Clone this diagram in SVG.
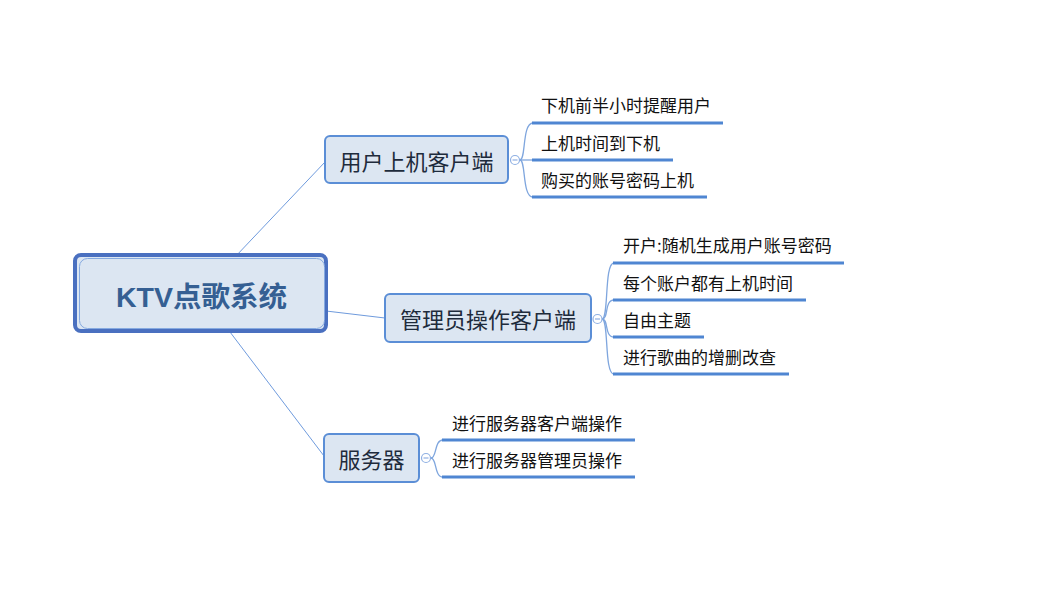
<svg xmlns="http://www.w3.org/2000/svg" width="1061" height="595" viewBox="0 0 1061 595">
<style>
.bg{fill:#ffffff}
.conn{stroke:#6F9BDD;stroke-width:1;fill:none}
.branch{stroke:#7FA6DE;stroke-width:1.3;fill:none}
.under{stroke:#4F86D2;stroke-width:3;fill:none}
.sub{fill:#DCE6F2;stroke:#5B8ED6;stroke-width:2}
.tog{fill:#ffffff;stroke:#8FB0E3;stroke-width:1.2}
.togm{stroke:#8FB0E3;stroke-width:1.2}
.t-main{font-family:"Liberation Sans","Noto Sans CJK SC",sans-serif;font-weight:bold;font-size:28.5px;fill:#355F93}
.t-sub{font-family:"Noto Sans CJK SC",sans-serif;font-size:22px;fill:#1E2B3C}
.t-leaf{font-family:"Noto Sans CJK SC",sans-serif;font-size:17px;fill:#111111}
</style>
<rect class="bg" x="0" y="0" width="1061" height="595"/>
<g id="connectors">
<line class="conn" x1="235" y1="257" x2="325" y2="162"/>
<line class="conn" x1="326" y1="311" x2="385" y2="318"/>
<line class="conn" x1="230" y1="332" x2="324" y2="456"/>
<path class="branch" d="M520,160 C526,160 522,123 533,123"/>
<path class="branch" d="M520,160 L533,160"/>
<path class="branch" d="M520,160 C526,160 522,197 533,197"/>
<path class="branch" d="M602,319 C609,319 604,263 614,263"/>
<path class="branch" d="M602,319 C609,319 604,300 614,300"/>
<path class="branch" d="M602,319 C609,319 604,337 614,337"/>
<path class="branch" d="M602,319 C609,319 604,374 614,374"/>
<path class="branch" d="M431,458 C437,458 434,440 443,440"/>
<path class="branch" d="M431,458 C437,458 434,477 443,477"/>
</g>
<g id="root">
<rect x="75" y="255" width="251" height="76" rx="6" fill="#DCE6F2" stroke="#4A70C0" stroke-width="4"/>
<rect x="79.5" y="258.5" width="245" height="70" rx="8" fill="none" stroke="#86AAE0" stroke-width="1"/>
<text class="t-main" x="201.5" y="307" text-anchor="middle">KTV点歌系统</text>
</g>
<g id="node-user">
<rect class="sub" x="325" y="136" width="183" height="47" rx="5"/>
<text class="t-sub" x="416.5" y="170" text-anchor="middle">用户上机客户端</text>
<circle class="tog" cx="515" cy="160" r="4.5"/>
<line class="togm" x1="512.5" y1="160" x2="517.5" y2="160"/>
</g>
<g id="leaf-u1"><text class="t-leaf" x="541" y="112">下机前半小时提醒用户</text><line class="under" x1="532" y1="123" x2="723" y2="123"/></g>
<g id="leaf-u2"><text class="t-leaf" x="541" y="150">上机时间到下机</text><line class="under" x1="532" y1="160" x2="673" y2="160"/></g>
<g id="leaf-u3"><text class="t-leaf" x="541" y="187">购买的账号密码上机</text><line class="under" x1="532" y1="197" x2="707" y2="197"/></g>
<g id="node-admin">
<rect class="sub" x="385" y="294" width="206" height="48" rx="5"/>
<text class="t-sub" x="488" y="328" text-anchor="middle">管理员操作客户端</text>
<circle class="tog" cx="597.5" cy="319" r="4.5"/>
<line class="togm" x1="595" y1="319" x2="600" y2="319"/>
</g>
<g id="leaf-a1"><text class="t-leaf" x="623" y="252">开户:随机生成用户账号密码</text><line class="under" x1="613" y1="263" x2="844" y2="263"/></g>
<g id="leaf-a2"><text class="t-leaf" x="623" y="290">每个账户都有上机时间</text><line class="under" x1="613" y1="300" x2="806" y2="300"/></g>
<g id="leaf-a3"><text class="t-leaf" x="623" y="327">自由主题</text><line class="under" x1="613" y1="337" x2="704" y2="337"/></g>
<g id="leaf-a4"><text class="t-leaf" x="623" y="364">进行歌曲的增删改查</text><line class="under" x1="613" y1="374" x2="789" y2="374"/></g>
<g id="node-server">
<rect class="sub" x="324" y="434" width="95" height="48" rx="5"/>
<text class="t-sub" x="371.5" y="468" text-anchor="middle">服务器</text>
<circle class="tog" cx="426" cy="458" r="4.5"/>
<line class="togm" x1="423.5" y1="458" x2="428.5" y2="458"/>
</g>
<g id="leaf-s1"><text class="t-leaf" x="452" y="430">进行服务器客户端操作</text><line class="under" x1="442" y1="440" x2="635" y2="440"/></g>
<g id="leaf-s2"><text class="t-leaf" x="452" y="467">进行服务器管理员操作</text><line class="under" x1="442" y1="477" x2="635" y2="477"/></g>
</svg>
